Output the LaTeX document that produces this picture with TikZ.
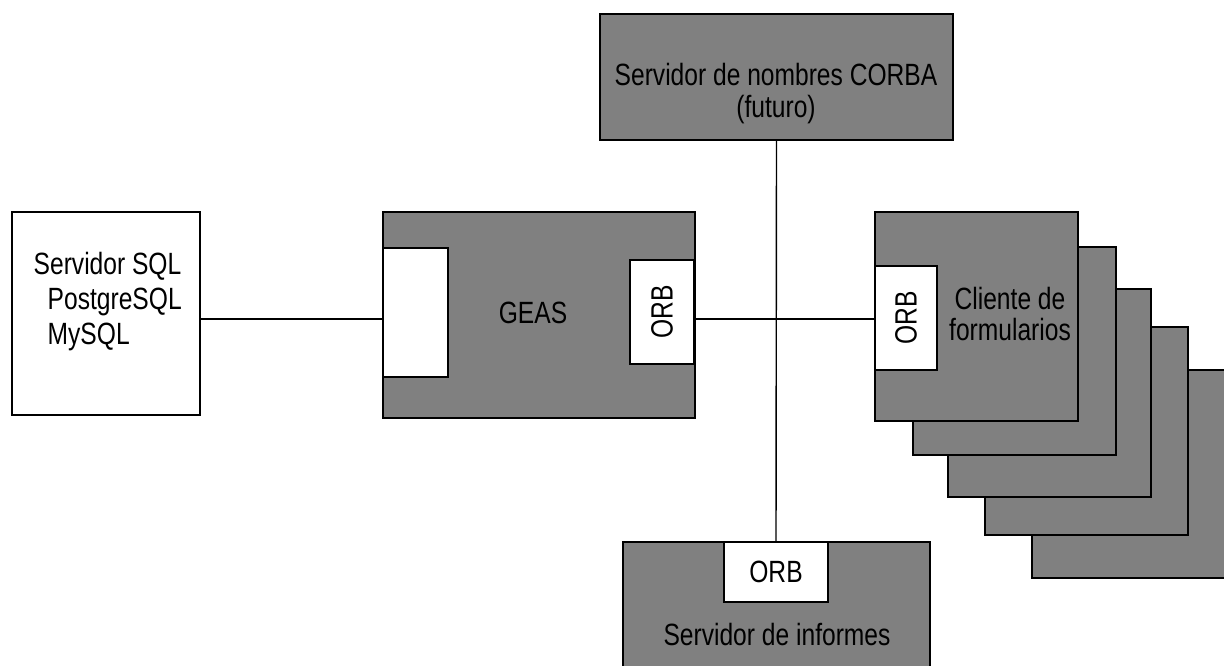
\documentclass[tikz,border=0pt]{standalone}
\usepackage{fontspec}
\setmainfont{Liberation Sans}[FakeStretch=0.8]
\usetikzlibrary{fit}
\definecolor{boxgray}{RGB}{128,128,128}

\begin{document}
\begin{tikzpicture}[x=0.02cm, y=-0.02cm, line width=0.8pt,
    box/.style={draw, line width=1pt, fill=boxgray, inner sep=0pt},
    hole/.style={draw, line width=1pt, fill=white, inner sep=0pt},
    lbl/.style={inner sep=0pt, align=center, font=\fontsize{17.5}{18.2}\selectfont}]
    \useasboundingbox (0,0) rectangle (1224,666);
    \clip (0,0) rectangle (1224,666);
    \coordinate (bus) at (0,319);
    \node[hole, fit={(12,212) (200,415)}] (sql) {};
    \node[lbl, align=left, anchor=north west] (sqlt) at (33,252) {Servidor SQL\\[1.7pt]\hspace*{0.28cm}PostgreSQL\\[1.7pt]\hspace*{0.28cm}MySQL};
    \node[box, fit={(600,14) (953,140)}] (corba) {};
    \node[lbl] (corbat) at (776,94) {Servidor de nombres CORBA\\(futuro)};
    \node[box, fit={(383,212) (695,418)}] (geas) {};
    \node[hole, fit={(383,248) (448,377)}] (geasl) {};
    \node[hole, fit={(630,260) (694,364)}] (geasorb) {};
    \node[lbl] (geast) at (533,313) {GEAS};
    \node[lbl, rotate=90] (geasorbt) at (geasorb) {ORB};
    \foreach \x/\y in {1032/370, 985/327, 948/289, 913/247}
        \node[box, fit={(\x,\y) (\x+203,\y+208)}] (cl\x) {};
    \node[box, fit={(875,212) (1078,421)}] (cl) {};
    \node[hole, fit={(875,266) (937,370)}] (corb) {};
    \node[lbl, rotate=90] (corbt) at (corb) {ORB};
    \node[lbl] (clt) at (1010,314) {Cliente de\\formularios};
    \node[box, fit={(623,542) (930,690)}] (inf) {};
    \node[hole, fit={(724,542) (828,602)}] (iorb) {};
    \node[lbl] (iorbt) at (iorb) {ORB};
    \node[lbl] (inft) at (777,635) {Servidor de informes};
    \draw (sql.east |- bus) -- (geas.west |- bus);
    \draw (geasorb.east |- bus) -- (corb.west |- bus);
    \draw (corba.south) -- (iorb.north);
\end{tikzpicture}
\end{document}
